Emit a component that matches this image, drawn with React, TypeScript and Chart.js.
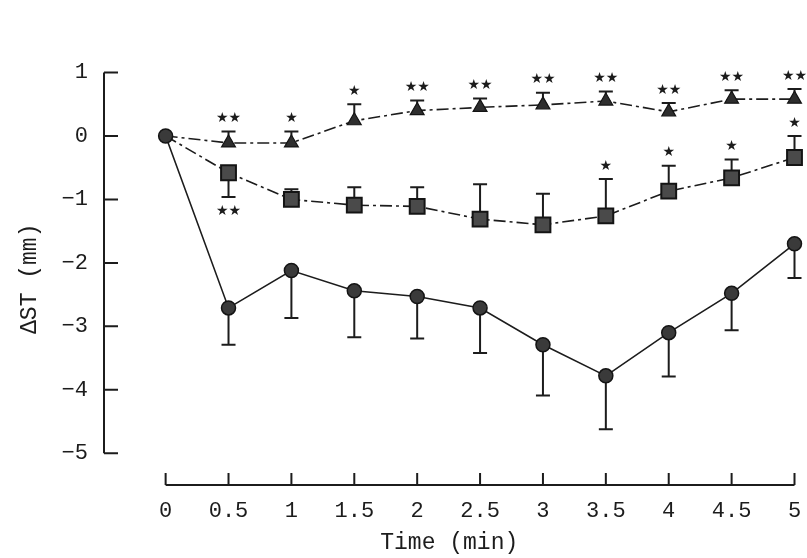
import React, { useEffect, useRef } from 'react';
import { Chart, registerables } from 'chart.js';

Chart.register(...registerables);

// ---- data ----
const timePoints = [0, 0.5, 1, 1.5, 2, 2.5, 3, 3.5, 4, 4.5, 5];

const circleMean = [0, -2.71, -2.12, -2.44, -2.53, -2.71, -3.29, -3.78, -3.1, -2.48, -1.7];
const circleErr = [0, 0.58, 0.75, 0.73, 0.66, 0.71, 0.8, 0.84, 0.69, 0.58, 0.54];
const circleErrDir = [0, -1, -1, -1, -1, -1, -1, -1, -1, -1, -1];

const squareMean = [0, -0.58, -1.0, -1.09, -1.11, -1.31, -1.4, -1.26, -0.87, -0.66, -0.34];
const squareErr = [0, 0.38, 0.16, 0.28, 0.3, 0.55, 0.49, 0.58, 0.4, 0.29, 0.34];
const squareErrDir = [0, -1, 1, 1, 1, 1, 1, 1, 1, 1, 1];
const squareSig = ['', '★★', '', '', '', '', '', '★', '★', '★', '★'];

const triangleMean = [0, -0.11, -0.11, 0.24, 0.4, 0.45, 0.49, 0.55, 0.38, 0.58, 0.58];
const triangleErr = [0, 0.18, 0.18, 0.26, 0.16, 0.14, 0.19, 0.15, 0.14, 0.14, 0.16];
const triangleErrDir = [0, 1, 1, 1, 1, 1, 1, 1, 1, 1, 1];
const triangleSig = ['', '★★', '★', '★', '★★', '★★', '★★', '★★', '★★', '★★', '★★'];

const xTickValues = [0, 0.5, 1, 1.5, 2, 2.5, 3, 3.5, 4, 4.5, 5];
const xTickLabels = ['0', '0.5', '1', '1.5', '2', '2.5', '3', '3.5', '4', '4.5', '5'];
const yTickValues = [1, 0, -1, -2, -3, -4, -5];
const yTickLabels = ['1', '0', '−1', '−2', '−3', '−4', '−5'];

const xTitle = 'Time (min)';
const yTitle = 'ΔST (mm)';

const INK = '#1c1c1c';
const MONO = '"Liberation Mono", "DejaVu Sans Mono", monospace';

const errorSets = [
  { mean: circleMean, err: circleErr, dir: circleErrDir, sig: null as string[] | null },
  { mean: squareMean, err: squareErr, dir: squareErrDir, sig: squareSig },
  { mean: triangleMean, err: triangleErr, dir: triangleErrDir, sig: triangleSig },
];

const decorPlugin = {
  id: 'decor',
  beforeDatasetsDraw(chart: any) {
    const { ctx, chartArea } = chart;
    const x = chart.scales.x;
    const y = chart.scales.y;
    ctx.save();
    ctx.strokeStyle = INK;
    ctx.lineWidth = 2;
    ctx.lineCap = 'butt';

    // y axis line + inward ticks
    const yl = chartArea.left;
    ctx.beginPath();
    ctx.moveTo(yl, y.getPixelForValue(yTickValues[0]));
    ctx.lineTo(yl, y.getPixelForValue(yTickValues[yTickValues.length - 1]));
    yTickValues.forEach((v) => {
      const py = y.getPixelForValue(v);
      ctx.moveTo(yl, py);
      ctx.lineTo(yl + 14, py);
    });
    ctx.stroke();

    // x axis line + inward ticks
    const xb = chartArea.bottom;
    ctx.beginPath();
    ctx.moveTo(x.getPixelForValue(xTickValues[0]), xb);
    ctx.lineTo(x.getPixelForValue(xTickValues[xTickValues.length - 1]), xb);
    xTickValues.forEach((v) => {
      const px = x.getPixelForValue(v);
      ctx.moveTo(px, xb);
      ctx.lineTo(px, xb - 12);
    });
    ctx.stroke();

    // error bars
    ctx.lineWidth = 2;
    errorSets.forEach((s) => {
      timePoints.forEach((t, i) => {
        if (!s.err[i]) return;
        const px = x.getPixelForValue(t);
        const p0 = y.getPixelForValue(s.mean[i]);
        const p1 = y.getPixelForValue(s.mean[i] + s.dir[i] * s.err[i]);
        ctx.beginPath();
        ctx.moveTo(px, p0);
        ctx.lineTo(px, p1);
        ctx.moveTo(px - 7, p1);
        ctx.lineTo(px + 7, p1);
        ctx.stroke();
      });
    });
    ctx.restore();
  },
  afterDatasetsDraw(chart: any) {
    const { ctx } = chart;
    const x = chart.scales.x;
    const y = chart.scales.y;
    ctx.save();
    ctx.fillStyle = INK;
    ctx.font = '14px "DejaVu Sans"';
    ctx.textAlign = 'center';
    ctx.textBaseline = 'middle';
    errorSets.forEach((s) => {
      if (!s.sig) return;
      timePoints.forEach((t, i) => {
        const txt = s.sig![i];
        if (!txt) return;
        const px = x.getPixelForValue(t);
        const p1 = y.getPixelForValue(s.mean[i] + s.dir[i] * s.err[i]);
        const py = s.dir[i] > 0 ? p1 - 13 : p1 + 14;
        ctx.fillText(txt, px, py);
      });
    });
    ctx.restore();
  },
};

export default function App() {
  const ref = useRef<HTMLCanvasElement | null>(null);

  useEffect(() => {
    if (!ref.current) return;
    const hideFirst = (r: number) => (c: any) => (c.dataIndex === 0 ? 0 : r);
    const chart = new Chart(ref.current, {
      type: 'line',
      data: {
        datasets: [
          {
            label: 'circle',
            data: timePoints.map((t, i) => ({ x: t, y: circleMean[i] })),
            borderColor: INK,
            borderWidth: 1.6,
            pointStyle: 'circle',
            pointRadius: 7,
            pointBackgroundColor: '#3a3a3a',
            pointBorderColor: '#141414',
            pointBorderWidth: 1.5,
            fill: false,
            tension: 0,
            clip: false,
            order: 1,
          },
          {
            label: 'square',
            data: timePoints.map((t, i) => ({ x: t, y: squareMean[i] })),
            borderColor: INK,
            borderWidth: 1.6,
            borderDash: [12, 4, 3, 4],
            pointStyle: 'rect',
            pointRadius: hideFirst(10.5),
            pointBackgroundColor: '#4a4a4a',
            pointBorderColor: '#141414',
            pointBorderWidth: 2,
            fill: false,
            tension: 0,
            clip: false,
            order: 2,
          },
          {
            label: 'triangle',
            data: timePoints.map((t, i) => ({ x: t, y: triangleMean[i] })),
            borderColor: INK,
            borderWidth: 1.6,
            borderDash: [12, 4, 3, 4],
            pointStyle: 'triangle',
            pointRadius: hideFirst(8),
            pointBackgroundColor: '#2e2e2e',
            pointBorderColor: '#141414',
            pointBorderWidth: 1.2,
            fill: false,
            tension: 0,
            clip: false,
            order: 3,
          },
        ],
      },
      options: {
        responsive: false,
        animation: false,
        layout: { padding: { top: 72.5, right: 10, left: 0, bottom: 0 } },
        plugins: {
          legend: { display: false },
          tooltip: { enabled: false },
        },
        scales: {
          x: {
            type: 'linear',
            min: -0.49,
            max: 5,
            grid: { display: false },
            border: { display: false },
            afterBuildTicks: (s: any) => {
              s.ticks = xTickValues.map((v) => ({ value: v }));
            },
            afterFit: (s: any) => {
              s.height = 73;
            },
            ticks: {
              autoSkip: false,
              maxRotation: 0,
              padding: 5,
              color: INK,
              font: { family: MONO, size: 22 },
              callback: (v: any) => {
                const i = xTickValues.indexOf(Number(v));
                return i >= 0 ? xTickLabels[i] : '';
              },
            },
            title: {
              display: true,
              text: xTitle,
              color: INK,
              font: { family: MONO, size: 23 },
              padding: { top: 0, bottom: 1 },
            },
          },
          y: {
            type: 'linear',
            min: -5.5,
            max: 1,
            grid: { display: false },
            border: { display: false },
            afterBuildTicks: (s: any) => {
              s.ticks = yTickValues.map((v) => ({ value: v }));
            },
            afterFit: (s: any) => {
              s.width = 104;
            },
            ticks: {
              autoSkip: false,
              padding: 8,
              color: INK,
              font: { family: MONO, size: 22 },
              callback: (v: any) => {
                const i = yTickValues.indexOf(Number(v));
                return i >= 0 ? yTickLabels[i] : '';
              },
            },
            title: {
              display: true,
              text: yTitle,
              color: INK,
              font: { family: MONO, size: 23 },
              padding: { top: 16, bottom: 0 },
            },
          },
        },
      },
      plugins: [decorPlugin],
    } as any);
    return () => chart.destroy();
  }, []);

  return (
    <div style={{ position: 'fixed', left: 0, top: 0, width: 807, height: 558, background: '#fff' }}>
      <canvas ref={ref} width={807} height={558} style={{ width: 807, height: 558, display: 'block' }} />
    </div>
  );
}
